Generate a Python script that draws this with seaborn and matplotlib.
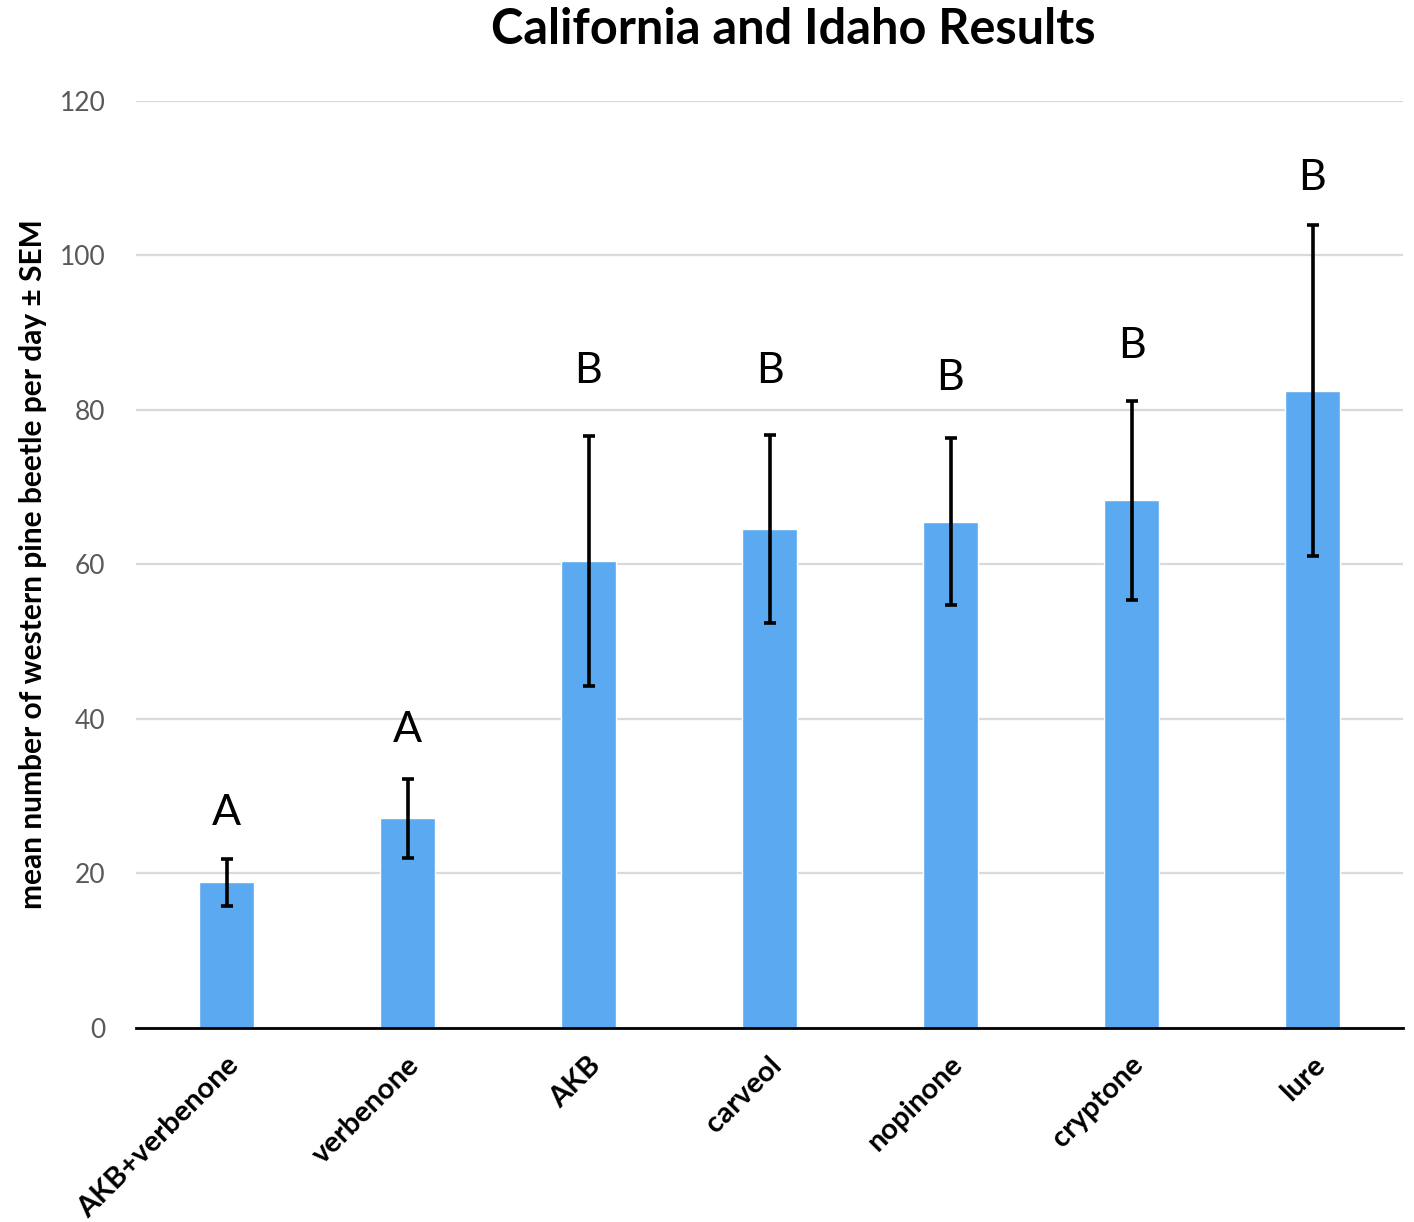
import matplotlib
matplotlib.use("Agg")
import matplotlib.pyplot as plt
import matplotlib.transforms as mtransforms
import numpy as np
import pandas as pd
import seaborn as sns

# Trap catches per treatment (mean beetles per day and standard error)
treatments = ["AKB+verbenone", "verbenone", "AKB", "carveol", "nopinone", "cryptone", "lure"]
mean_catch = [18.8, 27.1, 60.4, 64.6, 65.5, 68.3, 82.5]
sem_catch = [3.0, 5.1, 16.2, 12.2, 10.8, 12.9, 21.4]
# Significance groups from the post-hoc comparison
groups = ["A", "A", "B", "B", "B", "B", "B"]
group_label_y = [26.2, 37.0, 83.5, 83.5, 82.6, 86.7, 108.5]

y_ticks = [0, 20, 40, 60, 80, 100, 120]

df = pd.DataFrame({"treatment": treatments, "mean": mean_catch, "sem": sem_catch})

sns.set_theme(style="white")
plt.rcParams["font.family"] = ["Lato", "DejaVu Sans"]
plt.rcParams["text.color"] = "black"
plt.rcParams["xtick.color"] = "black"

fig = plt.figure(figsize=(14.14, 12.22), dpi=100)
ax = fig.add_axes([136 / 1414, 1 - 1027.5 / 1222, (1403 - 136) / 1414, (1027.5 - 101) / 1222])

bar_color = "#5BA9F1"
sns.barplot(data=df, x="treatment", y="mean", color=bar_color, saturation=1,
            width=0.305, errorbar=None, ax=ax, zorder=2)

ax.errorbar(np.arange(len(treatments)), df["mean"], yerr=df["sem"], fmt="none",
            ecolor="black", elinewidth=2.6, capsize=4, capthick=2.6, zorder=3)

for i, (g, gy) in enumerate(zip(groups, group_label_y)):
    ax.text(i, gy, g, ha="center", va="baseline", fontsize=31, color="black")

ax.set_ylim(0, 120)
ax.set_xlim(-0.5, len(treatments) - 0.5)
ax.set_yticks(y_ticks)
ax.set_yticklabels([str(t) for t in y_ticks])
ax.yaxis.grid(True, color="#D9D9D9", linewidth=1.6, zorder=0)
ax.xaxis.grid(False)
ax.set_axisbelow(True)

for side in ["top", "right", "left"]:
    ax.spines[side].set_visible(False)
ax.spines["bottom"].set_color("black")
ax.spines["bottom"].set_linewidth(2.0)
ax.spines["bottom"].set_zorder(4)

ax.tick_params(axis="y", length=0, pad=22, labelsize=19, labelcolor="#595959")
ax.tick_params(axis="x", length=0, pad=24, labelsize=21, labelcolor="black")

shift = mtransforms.ScaledTranslation(8 / 100, 0, fig.dpi_scale_trans)
for lbl in ax.get_xticklabels():
    lbl.set_rotation(45)
    lbl.set_rotation_mode("anchor")
    lbl.set_ha("right")
    lbl.set_va("center")
    lbl.set_fontweight("bold")
    lbl.set_color("black")
    lbl.set_transform(lbl.get_transform() + shift)

ax.set_xlabel("")
ax.set_ylabel("")
fig.text(33 / 1414, 1 - 564 / 1222, "mean number of western pine beetle per day ± SEM",
         rotation=90, ha="center", va="center", fontsize=21.5, fontweight="bold",
         color="black")

fig.text(793 / 1414, 1 - 30 / 1222, "California and Idaho Results",
         ha="center", va="center", fontsize=35, fontweight="bold", color="black")

fig.savefig("out.png", dpi=100, facecolor="white")
